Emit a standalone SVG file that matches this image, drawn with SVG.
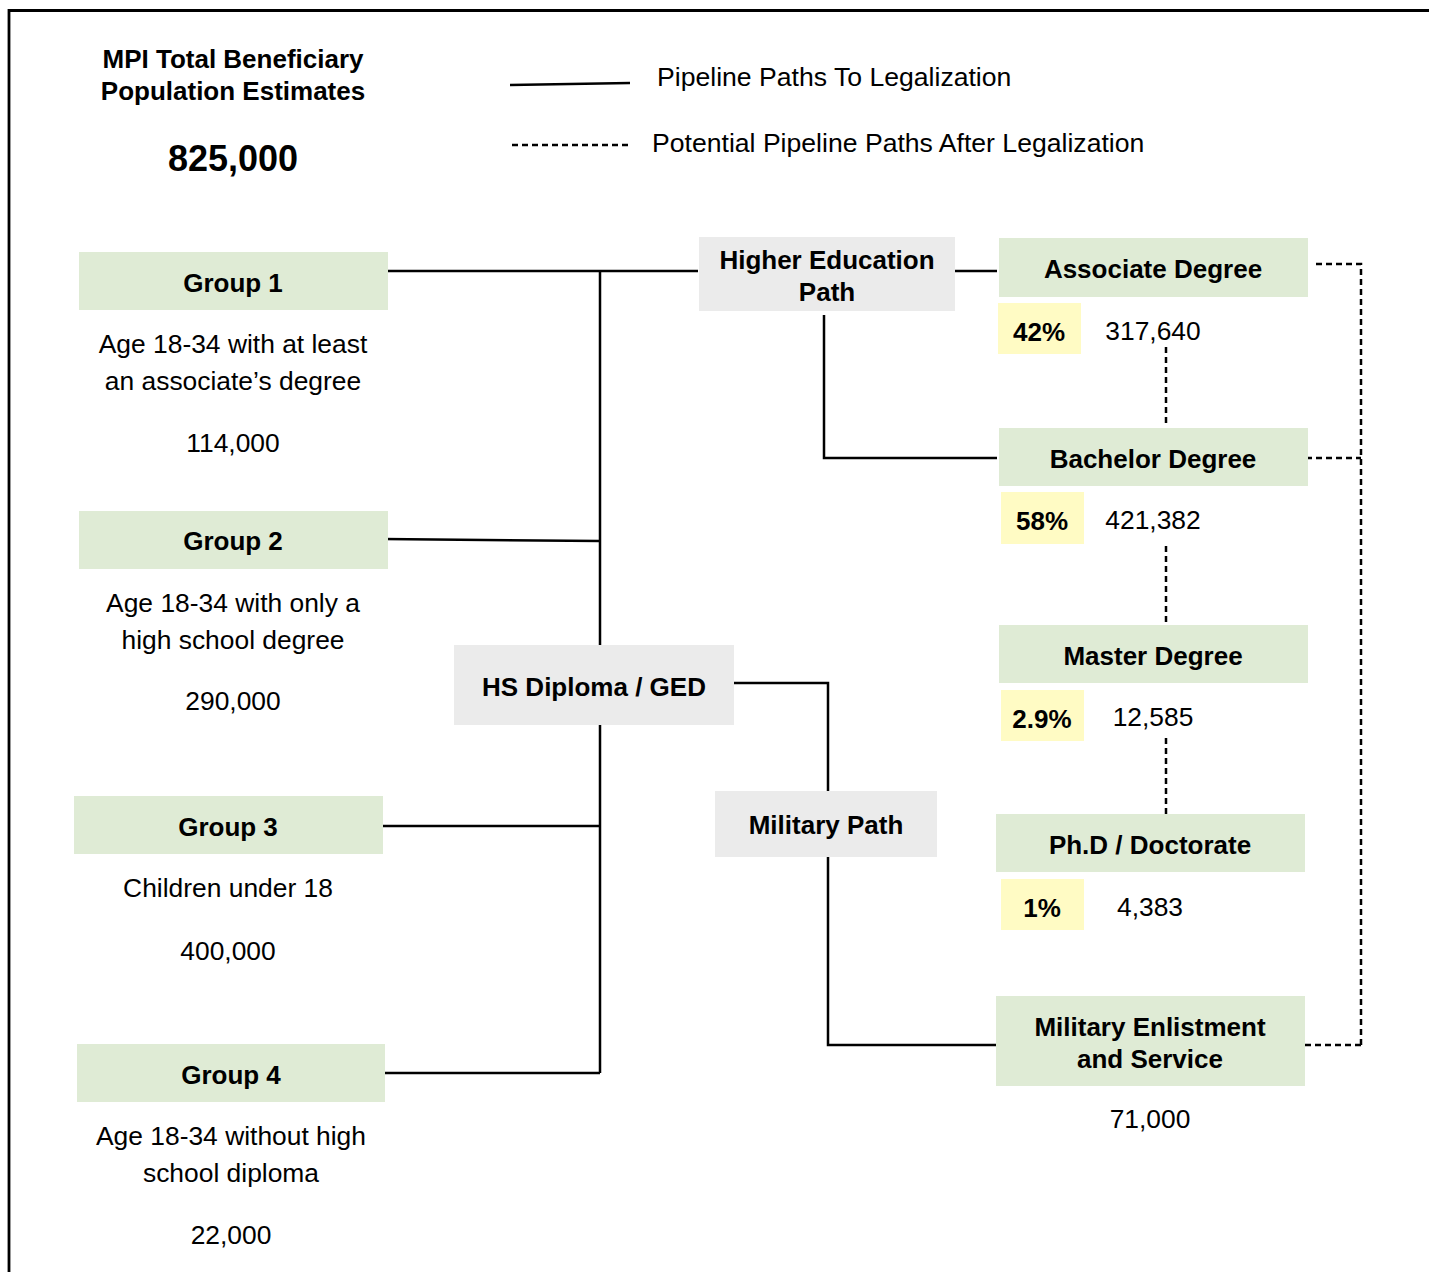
<svg xmlns="http://www.w3.org/2000/svg" width="1429" height="1272" viewBox="0 0 1429 1272">
<style>
text{font-family:"Liberation Sans",Arial,Helvetica,sans-serif;fill:#000;}
.b{font-weight:bold;font-size:26px;text-anchor:middle;}
.r{font-size:26.4px;text-anchor:middle;}
.l{font-size:26.6px;}
.green{fill:#dfebd5;}
.gray{fill:#ebebeb;}
.yel{fill:#fffbc4;}
.solid{fill:none;stroke:#000;stroke-width:2.5;}
.dot{fill:none;stroke:#000;stroke-width:2.5;stroke-dasharray:6 4;}
</style>
<rect width="1429" height="1272" fill="#fff"/>
<path d="M9,1280 V10.5 H1440" fill="none" stroke="#000" stroke-width="2.8"/>

<g id="title">
<text class="b" x="233" y="68">MPI Total Beneficiary</text>
<text class="b" x="233" y="100">Population Estimates</text>
<text class="b" x="233" y="171" style="font-size:36px">825,000</text>
</g>

<g id="legend">
<line class="solid" x1="510" y1="85" x2="630" y2="83"/>
<text class="l" x="657" y="86">Pipeline Paths To Legalization</text>
<line class="dot" x1="512" y1="145" x2="628" y2="145"/>
<text class="l" x="652" y="152">Potential Pipeline Paths After Legalization</text>
</g>

<g id="connectors">
<path class="solid" d="M385,271 H698"/>
<path class="solid" d="M600,271 V645 M600,725 V1073"/>
<path class="solid" d="M383,539 L600,541"/>
<path class="solid" d="M380,826 H600"/>
<path class="solid" d="M385,1073 H600"/>
<path class="solid" d="M734,683 H828 V791"/>
<path class="solid" d="M828,857 V1045 H997"/>
<path class="solid" d="M955,271 H997"/>
<path class="solid" d="M824,315 V458 H997"/>
<path class="dot" d="M1166,347 V426"/>
<path class="dot" d="M1166,546 V625"/>
<path class="dot" d="M1166,738 V814"/>
<path class="dot" d="M1316,264 H1361 V1045"/>
<path class="dot" d="M1306,458 H1361"/>
<path class="dot" d="M1305,1045 H1361"/>
</g>

<g id="group1">
<rect class="green" x="79" y="252" width="309" height="58"/>
<text class="b" x="233" y="292">Group 1</text>
<text class="r" x="233" y="353">Age 18-34 with at least</text>
<text class="r" x="233" y="390">an associate’s degree</text>
<text class="r" x="233" y="452">114,000</text>
</g>
<g id="group2">
<rect class="green" x="79" y="511" width="309" height="58"/>
<text class="b" x="233" y="550">Group 2</text>
<text class="r" x="233" y="612">Age 18-34 with only a</text>
<text class="r" x="233" y="649">high school degree</text>
<text class="r" x="233" y="710">290,000</text>
</g>
<g id="group3">
<rect class="green" x="74" y="796" width="309" height="58"/>
<text class="b" x="228" y="836">Group 3</text>
<text class="r" x="228" y="897">Children under 18</text>
<text class="r" x="228" y="960">400,000</text>
</g>
<g id="group4">
<rect class="green" x="77" y="1044" width="308" height="58"/>
<text class="b" x="231" y="1084">Group 4</text>
<text class="r" x="231" y="1145">Age 18-34 without high</text>
<text class="r" x="231" y="1182">school diploma</text>
<text class="r" x="231" y="1244">22,000</text>
</g>

<g id="hs-diploma">
<rect class="gray" x="454" y="645" width="280" height="80"/>
<text class="b" x="594" y="696">HS Diploma / GED</text>
</g>
<g id="higher-ed">
<rect class="gray" x="699" y="237" width="256" height="74"/>
<text class="b" x="827" y="269">Higher Education</text>
<text class="b" x="827" y="301">Path</text>
</g>
<g id="military-path">
<rect class="gray" x="715" y="791" width="222" height="66"/>
<text class="b" x="826" y="834">Military Path</text>
</g>

<g id="associate">
<rect class="green" x="999" y="238" width="309" height="59"/>
<text class="b" x="1153" y="278">Associate Degree</text>
<rect class="yel" x="998" y="303" width="83" height="51"/>
<text class="b" x="1039" y="341">42%</text>
<text class="r" x="1153" y="340">317,640</text>
</g>
<g id="bachelor">
<rect class="green" x="999" y="428" width="309" height="58"/>
<text class="b" x="1153" y="468">Bachelor Degree</text>
<rect class="yel" x="1001" y="492" width="83" height="52"/>
<text class="b" x="1042" y="530">58%</text>
<text class="r" x="1153" y="529">421,382</text>
</g>
<g id="master">
<rect class="green" x="999" y="625" width="309" height="58"/>
<text class="b" x="1153" y="665">Master Degree</text>
<rect class="yel" x="1001" y="690" width="83" height="51"/>
<text class="b" x="1042" y="728">2.9%</text>
<text class="r" x="1153" y="726">12,585</text>
</g>
<g id="phd">
<rect class="green" x="996" y="814" width="309" height="58"/>
<text class="b" x="1150" y="854">Ph.D / Doctorate</text>
<rect class="yel" x="1001" y="879" width="83" height="51"/>
<text class="b" x="1042" y="917">1%</text>
<text class="r" x="1150" y="916">4,383</text>
</g>
<g id="military-enlistment">
<rect class="green" x="996" y="996" width="309" height="90"/>
<text class="b" x="1150" y="1036">Military Enlistment</text>
<text class="b" x="1150" y="1068">and Service</text>
<text class="r" x="1150" y="1128">71,000</text>
</g>
</svg>
